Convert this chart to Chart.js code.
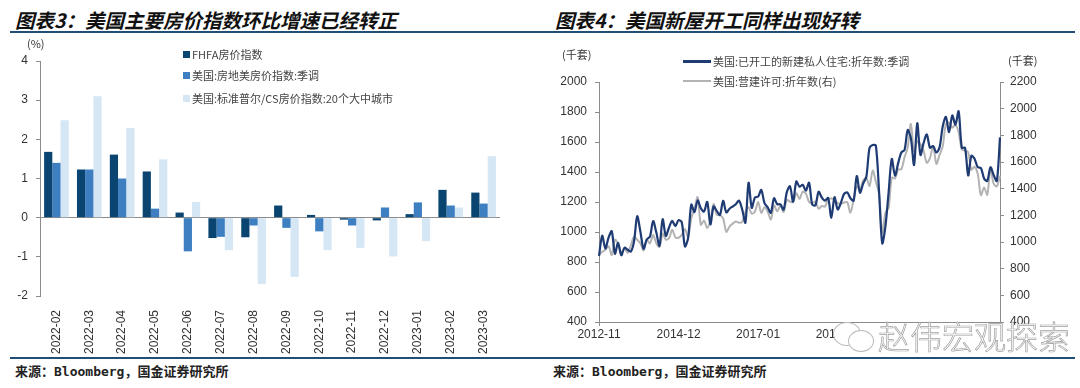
<!DOCTYPE html>
<html>
<head>
<meta charset="utf-8">
<script src="https://cdn.jsdelivr.net/npm/chart.js@4.4.0/dist/chart.umd.min.js"></script>
<style>
  body { margin: 0; width: 1080px; height: 388px; position: relative; background: #fff; overflow: hidden;
         font-family: "Noto Sans CJK SC", "Liberation Sans", sans-serif; }
  .abs { position: absolute; white-space: nowrap; }
  .title { top: 5px; font-size: 19.5px; font-weight: bold; font-style: italic; color: #111; }
  .rule { height: 2px; background: #1f4e79; }
  .source { top: 361px; font-size: 13px; font-weight: bold; color: #222;
            font-family: "DejaVu Sans Mono", "Noto Sans CJK SC", monospace; }
  .unit { font-size: 11px; color: #333; }
  .leg { font-size: 11px; color: #444; display: flex; align-items: center; }
  .sq { width: 7px; height: 7px; margin-right: 2px; }
  .ln { width: 28px; margin-right: 2px; }
  canvas { position: absolute; }
</style>
</head>
<body>

<div class="abs title" style="left:15px">图表3：美国主要房价指数环比增速已经转正</div>
<div class="abs title" style="left:555px">图表4：美国新屋开工同样出现好转</div>
<div class="abs rule" style="left:10px;top:31px;width:513px;height:1.5px"></div>
<div class="abs rule" style="left:523px;top:30.5px;width:552px"></div>
<div class="abs rule" style="left:10px;top:357px;width:513px;height:1.5px"></div>
<div class="abs rule" style="left:523px;top:356.5px;width:552px"></div>

<canvas id="priceChart" width="520" height="320" style="left:0;top:40px"></canvas>
<canvas id="startsChart" width="540" height="320" style="left:540px;top:40px"></canvas>

<div class="abs unit" style="left:27px;top:35px">(%)</div>
<div class="abs unit" style="left:562px;top:46px">(千套)</div>
<div class="abs unit" style="left:1008px;top:52px">(千套)</div>

<div id="legendLeft"></div>
<div id="legendRight"></div>

<!-- watermark -->
<div class="abs" style="left:833px;top:322px;width:26px;height:22px;border:1px solid #bbb;border-radius:50%;background:#fff"></div>
<div class="abs" style="left:848px;top:330px;width:24px;height:20px;border:1px solid #bbb;border-radius:50%;background:#fff"></div>
<div class="abs" style="left:878px;top:312px;font-size:32px;font-weight:200;color:#fff;-webkit-text-stroke:0.7px #a0a0a0">赵伟宏观探索</div>

<div class="abs source" style="left:15px">来源：Bloomberg，国金证券研究所</div>
<div class="abs source" style="left:553px">来源：Bloomberg，国金证券研究所</div>

<script>
// ---------- left chart: house price indices, % m/m ----------
const priceMonths = ['2022-02', '2022-03', '2022-04', '2022-05', '2022-06', '2022-07', '2022-08',
                     '2022-09', '2022-10', '2022-11', '2022-12', '2023-01', '2023-02', '2023-03'];
const priceNames = ['FHFA房价指数', '美国:房地美房价指数:季调', '美国:标准普尔/CS房价指数:20个大中城市'];
const fhfa = [1.68, 1.23, 1.61, 1.18, 0.13, -0.52, -0.50, 0.31, 0.07, -0.05, -0.07, 0.09, 0.71, 0.64];
const freddie = [1.40, 1.23, 1.00, 0.23, -0.86, -0.49, -0.20, -0.26, -0.35, -0.20, 0.26, 0.39, 0.31, 0.36];
const caseShiller = [2.49, 3.10, 2.29, 1.49, 0.40, -0.83, -1.69, -1.51, -0.83, -0.77, -0.99, -0.60, 0.26, 1.57];
const priceColors = ['#0a4571', '#3d7fc1', '#d5e6f4'];

// ---------- right chart: housing starts / permits, thousands SAAR ----------
const starts = [
  840, 975,
  890, 962, 1005, 855, 928, 845, 895, 882, 870, 936, 1105, 1003,
  888, 950, 969, 1073, 998, 909, 1085, 974, 1030, 1074, 1039, 1079,
  1065, 904, 959, 1183, 1133, 1211, 1158, 1136, 1201, 1051, 1170, 1141,
  1114, 1208, 1131, 1155, 1170, 1185, 1209, 1150, 1062, 1328, 1162, 1230,
  1236, 1280, 1193, 1164, 1128, 1225, 1186, 1184, 1149, 1264, 1305, 1202,
  1337, 1302, 1315, 1276, 1329, 1183, 1178, 1268, 1230, 1209, 1227, 1094,
  1232, 1150, 1194, 1254, 1264, 1225, 1209, 1373, 1262, 1323, 1368, 1560,
  1580, 1575, 1269, 925, 1038, 1265, 1487, 1376, 1459, 1530, 1547, 1680,
  1625, 1447, 1725, 1514, 1594, 1650, 1562, 1573, 1530, 1563, 1703, 1768,
  1666, 1777, 1716, 1805, 1562, 1561, 1377, 1508, 1488, 1432, 1427, 1357,
  1340, 1432, 1380, 1340, 1631
];
const permits = [
  900, 926,
  942, 968, 902, 1017, 985, 918, 954, 918, 974, 1039, 1017, 991,
  937, 1018, 990, 1052, 991, 963, 1063, 1018, 1028, 1092, 1035, 1032,
  1053, 1098, 1038, 1178, 1250, 1337, 1130, 1161, 1105, 1161, 1285, 1204,
  1202, 1177, 1076, 1116, 1138, 1153, 1144, 1152, 1225, 1260, 1212, 1228,
  1300, 1219, 1260, 1228, 1168, 1275, 1230, 1272, 1225, 1316, 1303, 1300,
  1366, 1323, 1377, 1364, 1301, 1292, 1303, 1249, 1270, 1265, 1322, 1326,
  1317, 1291, 1288, 1296, 1299, 1220, 1317, 1419, 1391, 1461, 1482, 1420,
  1536, 1452, 1356, 1066, 1220, 1258, 1483, 1476, 1545, 1545, 1635, 1709,
  1886, 1682, 1755, 1733, 1683, 1594, 1630, 1721, 1586, 1653, 1717, 1885,
  1895, 1857, 1879, 1823, 1695, 1685, 1674, 1542, 1564, 1512, 1351, 1409,
  1354, 1550, 1437, 1417, 1496
];
const lineNames = ['美国:已开工的新建私人住宅:折年数:季调', '美国:营建许可:折年数(右)'];
const lineColors = ['#1f3b73', '#b3b3b3'];
const shownTicks = ['2012-11', '2014-12', '2017-01', '2019-02'];

// month labels 2012-11 .. 2023-05
const lineMonths = [];
for (let y = 2012, m = 11; lineMonths.length < starts.length; m++) {
  if (m > 12) { m = 1; y++; }
  lineMonths.push(y + '-' + String(m).padStart(2, '0'));
}

Chart.defaults.font.family = '"Liberation Sans", Arial, sans-serif';
Chart.defaults.font.size = 12;
Chart.defaults.color = '#333';
Chart.defaults.animation = false;

const axisGray = '#8c8c8c';
const plain = v => String(v);

// legends (html)
let html = '';
priceNames.forEach(function (n, i) {
  const top = [46, 67, 90][i];
  html += `<div class="abs leg" style="left:183px;top:${top}px"><span class="sq" style="background:${priceColors[i]}"></span>${n}</div>`;
});
document.getElementById('legendLeft').innerHTML = html;

html = '';
lineNames.forEach(function (n, i) {
  const top = [53, 73][i];
  const h = i == 0 ? 3 : 2;
  html += `<div class="abs leg" style="left:683px;top:${top}px"><span class="ln" style="height:${h}px;background:${lineColors[i]}"></span>${n}</div>`;
});
document.getElementById('legendRight').innerHTML = html;

// left chart
new Chart(document.getElementById('priceChart').getContext('2d'), {
  type: 'bar',
  data: {
    labels: priceMonths,
    datasets: [fhfa, freddie, caseShiller].map(function (d, i) {
      return {
        label: priceNames[i],
        data: d,
        backgroundColor: priceColors[i],
        categoryPercentage: 0.75,
        barPercentage: 1.0
      };
    })
  },
  options: {
    responsive: false,
    devicePixelRatio: 1,
    layout: { padding: { top: 21, right: 20, bottom: 4, left: 0 } },
    plugins: { legend: { display: false }, tooltip: { enabled: false } },
    scales: {
      x: {
        grid: { display: false },
        border: { display: false },
        ticks: { maxRotation: 90, minRotation: 90, padding: 6 },
        afterFit: function (s) { s.height = 60; }
      },
      y: {
        min: -2,
        max: 4,
        ticks: { stepSize: 1, padding: 8, callback: plain },
        grid: {
          color: ctx => (ctx.tick && ctx.tick.value === 0 ? axisGray : 'transparent'),
          tickColor: axisGray,
          tickLength: 4
        },
        border: { color: axisGray },
        afterFit: function (s) { s.width = 40; }
      }
    }
  }
});

// right chart
function showTick(i) {
  return i % 25 === 0;
}

new Chart(document.getElementById('startsChart').getContext('2d'), {
  type: 'line',
  data: {
    labels: lineMonths,
    datasets: [
      {
        label: lineNames[0],
        data: starts,
        borderColor: lineColors[0],
        borderWidth: 2.2,
        pointRadius: 0,
        tension: 0.3,
        yAxisID: 'y'
      },
      {
        label: lineNames[1],
        data: permits,
        borderColor: lineColors[1],
        borderWidth: 2,
        pointRadius: 0,
        tension: 0.3,
        yAxisID: 'y1'
      }
    ]
  },
  options: {
    responsive: false,
    devicePixelRatio: 1,
    layout: { padding: { top: 42, right: 0, bottom: 0, left: 0 } },
    plugins: { legend: { display: false }, tooltip: { enabled: false } },
    scales: {
      x: {
        ticks: {
          autoSkip: false,
          maxRotation: 0,
          padding: 1,
          callback: function (v, i) {
            if (!showTick(i)) return null;
            const l = lineMonths[i];
            return shownTicks.includes(l) ? l : '';
          }
        },
        grid: {
          drawOnChartArea: false,
          tickLength: 4,
          color: ctx => (showTick(ctx.index) ? axisGray : 'transparent'),
          tickColor: ctx => (showTick(ctx.index) ? axisGray : 'transparent')
        },
        border: { color: axisGray },
        afterFit: function (s) { s.height = 38; }
      },
      y: {
        position: 'left',
        min: 400,
        max: 2000,
        ticks: { stepSize: 200, padding: 8, callback: plain },
        grid: { drawOnChartArea: false, tickLength: 4, color: axisGray },
        border: { color: axisGray },
        afterFit: function (s) { s.width = 59; }
      },
      y1: {
        position: 'right',
        min: 400,
        max: 2200,
        ticks: { stepSize: 200, padding: 6, callback: plain },
        grid: { drawOnChartArea: false, tickLength: 4, color: axisGray },
        border: { color: axisGray },
        afterFit: function (s) { s.width = 80; }
      }
    }
  }
});
</script>
</body>
</html>
